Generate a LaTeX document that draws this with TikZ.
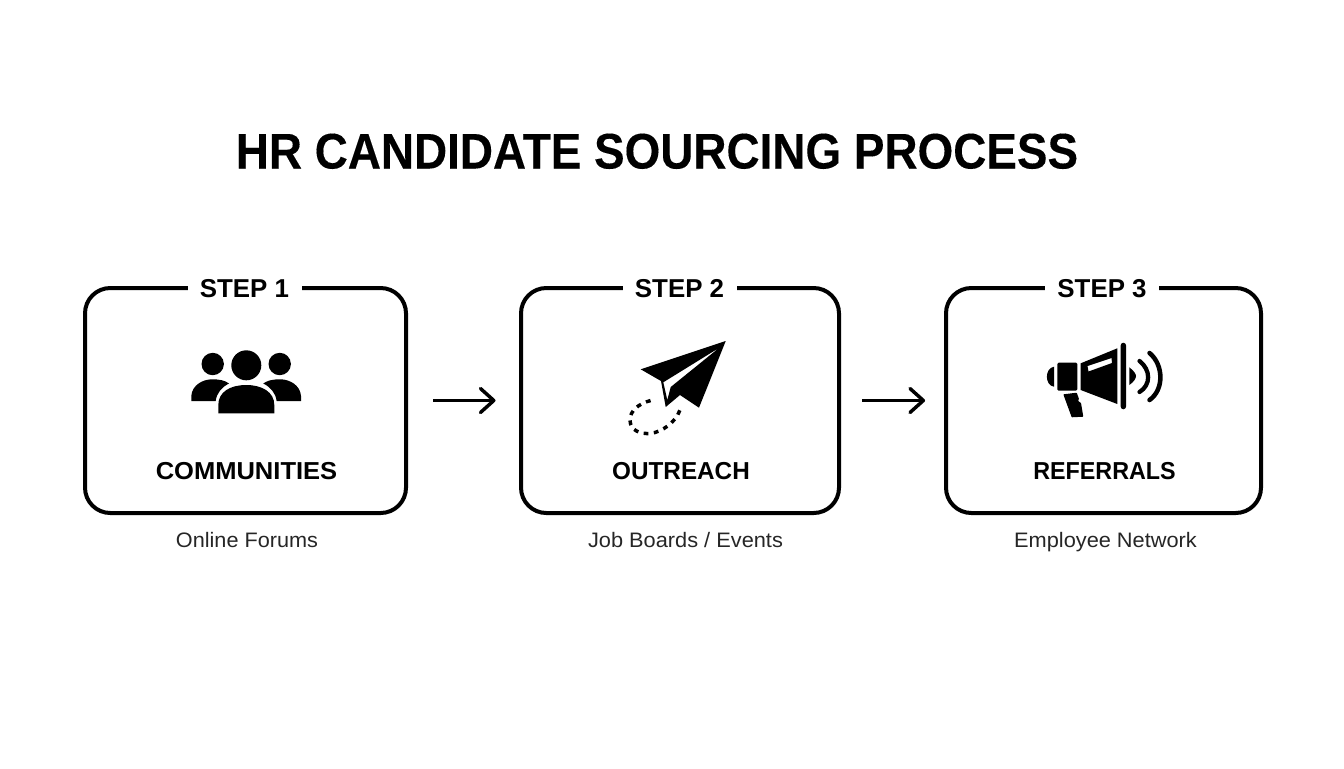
\documentclass[tikz,border=0pt]{standalone}
\usepackage{fontspec}
\setmainfont{Liberation Sans}
\newfontfamily\titlefont[FakeBold=0.2]{Liberation Sans Bold}
\usetikzlibrary{arrows.meta}
\newcommand{\sx}[2]{\scalebox{#1}[1]{#2}}
\tikzset{
  box/.style={draw=black,line width=3pt,rounded corners=19pt,minimum width=#1*0.75pt,minimum height=168.75pt,inner sep=0pt,fill=white},
  titletext/.style={font=\fontsize{37.5}{40}\selectfont\titlefont,anchor=base,inner sep=0pt,text=black},
  steptag/.style={font=\fontsize{19.4}{22}\selectfont\bfseries,anchor=base,inner sep=0pt,text=black},
  headtext/.style={font=\fontsize{18.4}{22}\selectfont\bfseries,anchor=base,inner sep=0pt,text=black},
  subtext/.style={font=\fontsize{15.7}{18}\selectfont,anchor=base,inner sep=0pt,text=black!85},
  flow/.style={line width=2.6pt,-{Straight Barb[length=10pt,width=18pt,round]}},
  icon/.style={fill=black,draw=none},
}
\begin{document}
\begin{tikzpicture}[x=0.75pt,y=-0.75pt]
\useasboundingbox (0,0) rectangle (1344,768);
\fill[white] (0,0) rectangle (1344,768);
\node[titletext] (title) at (657,168.5) {\sx{0.917}{HR CANDIDATE SOURCING PROCESS}};
\node[box=321] (b1) at (245.5,400.5) {};
\node[box=318] (b2) at (680,400.5) {};
\node[box=315] (b3) at (1103.5,400.5) {};
\fill[white] (188,280) rectangle (302,296);
\fill[white] (622.5,280) rectangle (736.5,296);
\fill[white] (1045,280) rectangle (1159,296);
\node[steptag] (s1) at (244.5,297.5) {STEP 1};
\node[steptag] (s2) at (679.5,297.5) {STEP 2};
\node[steptag] (s3) at (1102,297.5) {STEP 3};
\node[headtext] (h1) at (246.5,479.5) {\sx{1.04}{COMMUNITIES}};
\node[headtext] (h2) at (681,479.5) {\sx{0.99}{OUTREACH}};
\node[headtext] (h3) at (1104.5,479.5) {\sx{0.95}{REFERRALS}};
\node[subtext] (t1) at (247,547.5) {\sx{1.035}{Online Forums}};
\node[subtext] (t2) at (685.5,547.5) {\sx{1.04}{Job Boards / Events}};
\node[subtext] (t3) at (1105.5,547.5) {\sx{1.04}{Employee Network}};
\draw[flow,shorten <=18.75pt,shorten >=17.6pt] (b1.east) -- (b2.west);
\draw[flow,shorten <=15.8pt,shorten >=14.2pt] (b2.east) -- (b3.west);
% people
\fill[icon] (212.7,364) circle[radius=11.2];
\fill[icon] (279.7,364) circle[radius=11.2];
\fill[icon] (246.3,365.3) circle[radius=15];
\fill[icon] (218.3,413.3) -- (218.3,405) .. controls (218.3,392) and (230,385) .. (246.3,385) .. controls (262,385) and (274.3,392) .. (274.3,405) -- (274.3,413.3) -- cycle;
\fill[icon] (191.3,401) -- (191.3,396) .. controls (192,385) and (203,379.3) .. (212,379.3) .. controls (220,379.3) and (225,380.5) .. (229,383.5) .. controls (222,387) and (216.5,393) .. (215.7,401) -- cycle;
\fill[icon] (301,401) -- (301,396) .. controls (300.3,385) and (289.3,379.3) .. (280.3,379.3) .. controls (272.3,379.3) and (267.3,380.5) .. (263.3,383.5) .. controls (270.3,387) and (275.8,393) .. (276.6,401) -- cycle;
% plane
\fill[icon,even odd rule] (640.7,369.3) -- (725.7,341) -- (699,407.7) -- (680,395) -- (665.7,407) -- (661,381) -- cycle
  (719.3,347.7) -- (663.3,382.3) -- (667.3,400) -- (670.7,387) -- cycle;
\draw[black,line width=2.6pt,dash pattern=on 3.6pt off 4.1pt] (650.5,400.5) .. controls (638,404) and (630,411) .. (630,420) .. controls (630,431) and (641,434) .. (650,433.5) .. controls (662,432) and (675,423) .. (680,410);
% megaphone
\fill[icon] (1054,366.7) .. controls (1044.5,368) and (1044.5,385.5) .. (1054,386.7) -- cycle;
\fill[icon,rounded corners=1pt] (1057.3,362.7) rectangle (1077.3,390.7);
\fill[icon,even odd rule] (1080.7,363.3) -- (1117.3,348.3) -- (1117.3,404) -- (1080.7,390) -- cycle (1087.5,366) -- (1111.5,358) -- (1112,363) -- (1088.5,371.5) -- cycle;
\fill[icon,rounded corners=2pt] (1120.7,342.7) rectangle (1126,409.3);
\fill[icon] (1129.3,367.3) .. controls (1134,371) and (1136,374) .. (1136,376) .. controls (1136,378) and (1134,382) .. (1129.3,385) -- cycle;
\draw[line width=3.2pt,line cap=round] (1139.5,361) .. controls (1151,370) and (1151,385) .. (1139.5,392);
\draw[line width=3.4pt,line cap=round] (1149.5,353) .. controls (1164,365) and (1164,390) .. (1149.5,400);
\fill[icon,rounded corners=0.5pt] (1063.3,394.3) -- (1076.7,392.7) -- (1079,399) -- (1078,401) -- (1081,403) -- (1083.3,416.7) -- (1071.7,417.3) -- cycle;
\end{tikzpicture}
\end{document}
